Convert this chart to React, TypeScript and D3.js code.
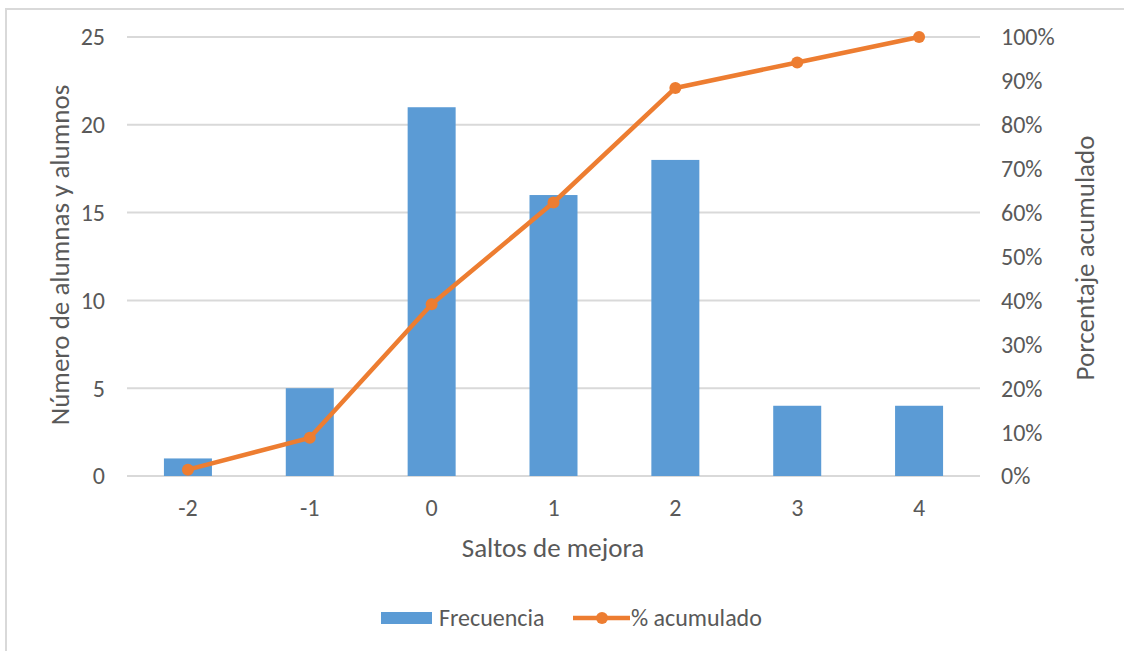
import React from "react";
import * as d3 from "d3";

const categories = ["-2", "-1", "0", "1", "2", "3", "4"];
const frecuencia = [1, 5, 21, 16, 18, 4, 4];
const acumulado = [1.45, 8.7, 39.1, 62.3, 88.4, 94.2, 100];
const leftTicks = [0, 5, 10, 15, 20, 25];
const rightTicks = [0, 10, 20, 30, 40, 50, 60, 70, 80, 90, 100];

const FONT = "Carlito, Calibri, 'Open Sans', sans-serif";
const TXT = "#595959";

export default function App() {
  const W = 1124, H = 651;
  const left = 127, right = 980, top = 37, bottom = 476;
  const x = d3.scaleBand<string>().domain(categories).range([left, right]).paddingInner(0.6).paddingOuter(0.3);
  const xc = (c: string) => (x(c) as number) + x.bandwidth() / 2;
  const yL = d3.scaleLinear().domain([0, 25]).range([bottom, top]);
  const yR = d3.scaleLinear().domain([0, 100]).range([bottom, top]);
  const line = d3.line<number>().x((_, i) => xc(categories[i])).y((d) => yR(d));
  const bw = 48;
  return (
    <svg width={W} height={H} style={{ position: "absolute", left: 0, top: 0, background: "#fff" }} fontFamily={FONT}>
      <rect x={6} y={9} width={W + 10} height={H + 10} fill="#fff" stroke="#d9d9d9" strokeWidth={2} />
      {leftTicks.map((t) => (
        <g key={t}>
          <line x1={left} x2={right} y1={yL(t)} y2={yL(t)} stroke="#d9d9d9" strokeWidth={2} />
          <text x={105} y={yL(t)} dy="0.35em" textAnchor="end" fontSize={24} fill={TXT}>{t}</text>
        </g>
      ))}
      {rightTicks.map((t) => (
        <text key={t} x={1001} y={yR(t)} dy="0.35em" textAnchor="start" fontSize={24} fill={TXT}>{t}%</text>
      ))}
      {categories.map((c, i) => (
        <g key={c}>
          <rect x={xc(c) - bw / 2} y={yL(frecuencia[i])} width={bw} height={bottom - yL(frecuencia[i])} fill="#5B9BD5" />
          <text x={xc(c)} y={508} dy="0.35em" textAnchor="middle" fontSize={24} fill={TXT}>{c}</text>
        </g>
      ))}
      <path d={line(acumulado) || ""} fill="none" stroke="#ED7D31" strokeWidth={4.5} strokeLinejoin="round" />
      {acumulado.map((v, i) => (
        <circle key={i} cx={xc(categories[i])} cy={yR(v)} r={6} fill="#ED7D31" />
      ))}
      <text x={553} y={548} dy="0.35em" textAnchor="middle" fontSize={27} fill={TXT}>Saltos de mejora</text>
      <text transform={`translate(60,255) rotate(-90)`} dy="0.35em" textAnchor="middle" fontSize={27} fill={TXT}>Número de alumnas y alumnos</text>
      <text transform={`translate(1085,258) rotate(-90)`} dy="0.35em" textAnchor="middle" fontSize={27} fill={TXT}>Porcentaje acumulado</text>
      <rect x={381} y={612} width={51} height={12} fill="#5B9BD5" />
      <text x={439} y={618} dy="0.35em" fontSize={24} fill={TXT}>Frecuencia</text>
      <line x1={573} x2={630} y1={618} y2={618} stroke="#ED7D31" strokeWidth={4.5} />
      <circle cx={602} cy={618} r={6} fill="#ED7D31" />
      <text x={631} y={618} dy="0.35em" fontSize={24} fill={TXT}>% acumulado</text>
    </svg>
  );
}
